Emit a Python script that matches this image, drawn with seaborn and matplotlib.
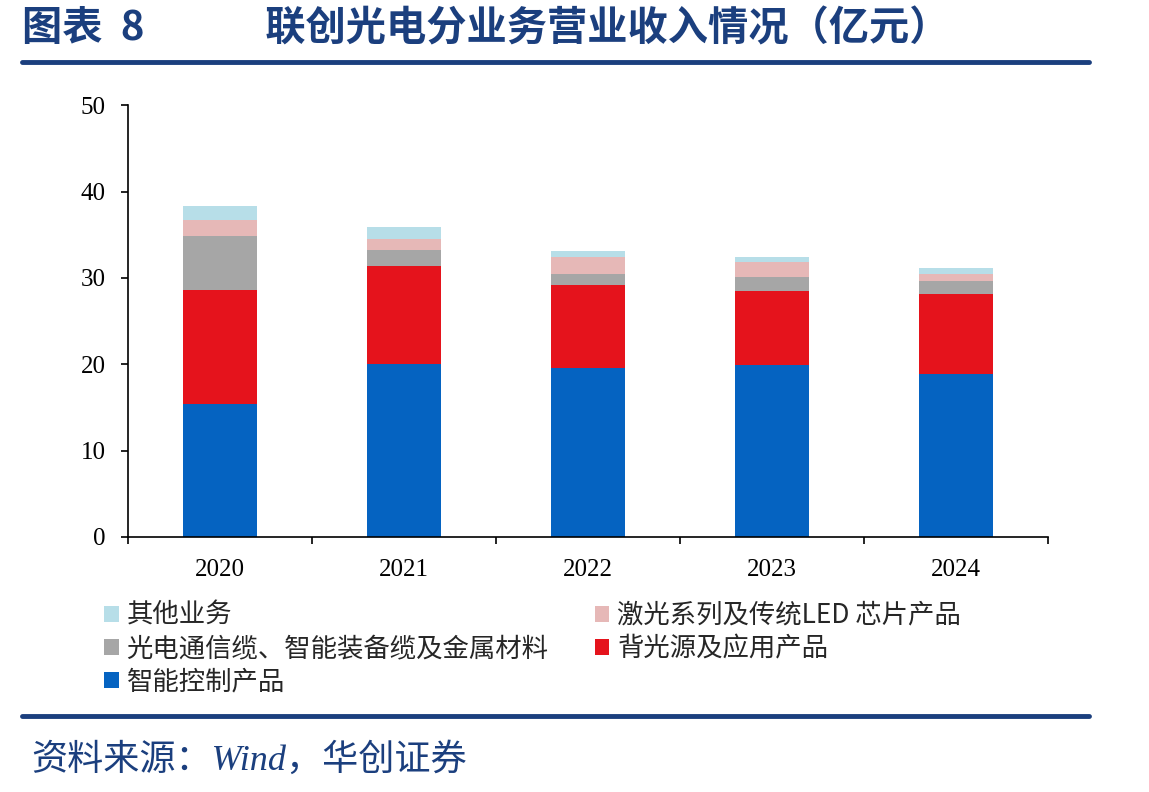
import numpy as np
import pandas as pd
import matplotlib.pyplot as plt
import seaborn as sns
from matplotlib.patches import Patch
from matplotlib.lines import Line2D

# values (亿元)
years = ["2020", "2021", "2022", "2023", "2024"]
smart_ctrl = [15.4, 20.0, 19.6, 19.9, 18.9]   # 智能控制产品
backlight = [13.2, 11.4, 9.6, 8.6, 9.3]       # 背光源及应用产品
cable = [6.3, 1.9, 1.3, 1.6, 1.5]             # 光电通信缆、智能装备缆及金属材料
laser = [1.8, 1.2, 1.9, 1.8, 0.8]             # 激光系列及传统LED 芯片产品
other = [1.6, 1.4, 0.7, 0.5, 0.6]             # 其他业务

names = ["智能控制产品", "背光源及应用产品", "光电通信缆、智能装备缆及金属材料",
         "激光系列及传统LED 芯片产品", "其他业务"]
colors = ["#0563C1", "#E5131C", "#A6A6A6", "#E6B8B7", "#B7DEE8"]

sns.set_style("white")
plt.rcParams['font.family'] = ['Noto Sans CJK SC', 'DejaVu Sans']

df = pd.DataFrame({"year": years, names[0]: smart_ctrl, names[1]: backlight,
                   names[2]: cable, names[3]: laser, names[4]: other})
cum = df[names].cumsum(axis=1)

fig = plt.figure(figsize=(11.49, 7.92), dpi=100)
ax = fig.add_axes([0.1114, 0.322, 0.8006, 0.545])

# stacked bars: draw cumulative totals from the top layer down
for name, c in reversed(list(zip(names, colors))):
    sns.barplot(x=df["year"], y=cum[name], color=c, width=0.4,
                linewidth=0, saturation=1, ax=ax)

ax.set_ylim(0, 50)
ax.set_xlim(-0.5, 4.5)
ax.set_yticks(range(0, 51, 10))
ax.set_xlabel("")
ax.set_ylabel("")
for s in ["top", "right"]:
    ax.spines[s].set_visible(False)
for s in ["left", "bottom"]:
    ax.spines[s].set_color("black")
    ax.spines[s].set_linewidth(1.2)

ax.set_xticks(np.arange(-0.5, 5, 1), minor=True)
ax.tick_params(axis="x", which="major", length=0, pad=16, bottom=True)
ax.tick_params(axis="x", which="minor", length=5, width=1.2, direction="out",
               color="black", bottom=True)
ax.tick_params(axis="y", length=5, width=1.2, direction="out", color="black",
               pad=11, left=True)
for lab in ax.get_xticklabels() + ax.get_yticklabels():
    lab.set_fontfamily("Liberation Serif")
    lab.set_fontsize(18)
    lab.set_color("black")

# legend: column-first fill gives the reference row order
order = [4, 2, 0, 3, 1]
handles = [Patch(facecolor=colors[i], edgecolor="none") for i in order]
labels = [names[i] for i in order]
fig.legend(handles, labels, ncol=2, loc="upper left", bbox_to_anchor=(0.070, 0.270),
           frameon=False, fontsize=19, handlelength=0.55, handleheight=0.55,
           handletextpad=0.3, columnspacing=1.75, labelspacing=0.23)

navy = "#1B3F7E"
fig.text(0.019, 0.964, "图表  8\u3000\u3000\u3000联创光电分业务营业收入情况（亿元）", fontsize=29,
         fontweight="bold", color=navy, va="center")
fig.add_artist(Line2D([0.019, 0.948], [0.922, 0.922], color=navy, lw=3.5))
fig.add_artist(Line2D([0.019, 0.948], [0.096, 0.096], color=navy, lw=3.5))
fig.text(0.027, 0.04, "资料来源：Wind，华创证券", fontsize=26, color=navy,
         style="italic", va="center", family=["Liberation Serif", "Noto Sans CJK SC"])

fig.savefig("out.png", dpi=100)
